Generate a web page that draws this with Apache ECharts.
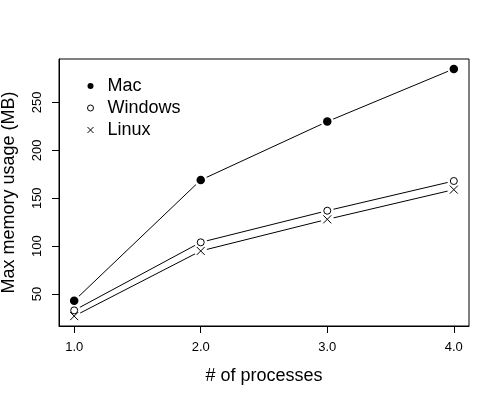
<!DOCTYPE html>
<html>
<head>
<meta charset="utf-8">
<script src="https://cdn.jsdelivr.net/npm/echarts@6/dist/echarts.min.js"></script>
<style>html,body{margin:0;padding:0;background:#fff;}#c{width:500px;height:400px;}</style>
</head>
<body>
<div id="c"></div>
<script>
const processes = [1, 2, 3, 4];
const mac = [43, 169, 230, 285];
const windows = [33, 104, 137, 168];
const linux = [27, 95, 128, 159];
const xTicks = [1, 2, 3, 4];
const yTicks = [50, 100, 150, 200, 250];

const FONT = "'Liberation Sans', Arial, sans-serif";
const CROSS = 'path://M0,0L10,10M10,0L0,10';

function pairs(ys) { return processes.map((x, i) => [x, ys[i]]); }

const allY = mac.concat(windows, linux);
const yLo = Math.min(...allY), yHi = Math.max(...allY);
const yPad = (yHi - yLo) * 0.04;
const xLo = Math.min(...processes), xHi = Math.max(...processes);
const xPad = (xHi - xLo) * 0.04;

const seriesDefs = [
  { name: 'Mac', data: mac, symbol: 'circle', size: 8.5, style: { color: '#000', borderColor: '#000', borderWidth: 0 } },
  { name: 'Windows', data: windows, symbol: 'circle', size: 7, style: { color: '#fff', borderColor: '#000', borderWidth: 1 } },
  { name: 'Linux', data: linux, symbol: CROSS, size: 8, style: { color: '#000', borderColor: '#000', borderWidth: 1 } }
];

const series = [];
seriesDefs.forEach(d => {
  series.push({
    name: d.name + '-line', type: 'line', data: pairs(d.data), showSymbol: false, symbol: 'none',
    lineStyle: { color: '#000', width: 1 }, z: 1, silent: true, animation: false
  });
});
seriesDefs.forEach(d => {
  series.push({
    name: d.name + '-gap', type: 'scatter', data: pairs(d.data), symbol: 'circle', symbolSize: 13,
    itemStyle: { color: '#fff', borderWidth: 0, opacity: 1 }, z: 2, silent: true, animation: false
  });
});
seriesDefs.forEach(d => {
  series.push({
    name: d.name, type: 'scatter', data: pairs(d.data), symbol: d.symbol, symbolSize: d.size,
    itemStyle: Object.assign({ opacity: 1 }, d.style), z: 3, animation: false
  });
});

const chart = echarts.init(document.getElementById('c'), null, { renderer: 'canvas' });
chart.setOption({
  animation: false,
  backgroundColor: '#fff',
  textStyle: { fontFamily: FONT },
  grid: { left: 59, top: 59, right: 31, bottom: 74, show: true, borderColor: '#000', borderWidth: 1,
    containLabel: false, outerBoundsMode: 'none' },
  legend: {
    orient: 'vertical', left: 87, top: 77, padding: 0, itemGap: 4,
    itemWidth: 6, itemHeight: 6, selectedMode: false,
    textStyle: { fontFamily: FONT, fontSize: 18, color: '#000', lineHeight: 18, padding: [0, 0, 0, 9] },
    data: [
      { name: 'Mac', icon: 'circle', itemStyle: { color: '#000', borderWidth: 0 } },
      { name: 'Windows', icon: 'circle', itemStyle: { color: '#fff', borderColor: '#000', borderWidth: 1 } },
      { name: 'Linux', icon: CROSS, itemStyle: { color: '#000', borderColor: '#000', borderWidth: 1 } }
    ]
  },
  xAxis: {
    type: 'value', min: xLo - xPad, max: xHi + xPad,
    name: '# of processes', nameLocation: 'middle', nameGap: 41,
    nameTextStyle: { fontFamily: FONT, fontSize: 18, color: '#000' },
    splitLine: { show: false },
    axisLine: { show: true, lineStyle: { color: '#000', width: 1 } },
    axisTick: { show: true, length: 7, lineStyle: { color: '#000' }, customValues: xTicks },
    axisLabel: { fontFamily: FONT, fontSize: 13, color: '#000', margin: 15, customValues: xTicks,
      formatter: v => Number(v).toFixed(1) }
  },
  yAxis: {
    type: 'value', min: yLo - yPad, max: yHi + yPad,
    name: 'Max memory usage (MB)', nameLocation: 'middle', nameGap: 41,
    nameTextStyle: { fontFamily: FONT, fontSize: 18, color: '#000' },
    splitLine: { show: false },
    axisLine: { show: true, lineStyle: { color: '#000', width: 1 } },
    axisTick: { show: true, length: 7, lineStyle: { color: '#000' }, customValues: yTicks },
    axisLabel: { fontFamily: FONT, fontSize: 13, color: '#000', margin: 15, rotate: 90, customValues: yTicks,
      formatter: v => String(Math.round(v)) }
  },
  series: series
});
</script>
</body>
</html>
